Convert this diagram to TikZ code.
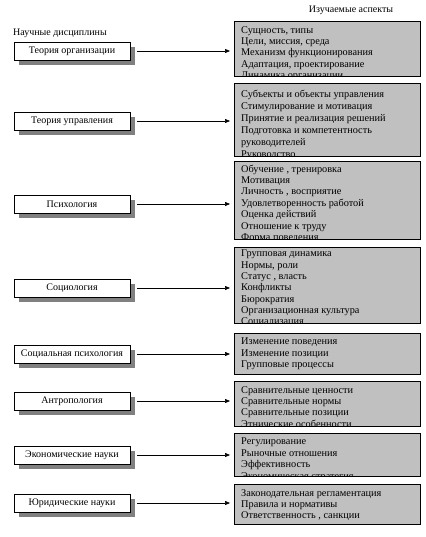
\documentclass[tikz,border=0pt]{standalone}
\usepackage{fontspec}
\setmainfont{Liberation Serif}
\usetikzlibrary{arrows.meta,shadows}
\definecolor{boxgray}{RGB}{192,192,192}
\definecolor{shadegray}{RGB}{128,128,128}
\tikzset{
  disc/.style={draw=black, line width=0.7pt, fill=white, minimum width=116pt, minimum height=18pt,
    inner sep=0pt, font=\fontsize{10}{10}\selectfont,
    drop shadow={shadow xshift=5pt, shadow yshift=-5pt, fill=shadegray, opacity=1}},
  aspect/.style={draw=black, line width=0.7pt, fill=boxgray, minimum width=186pt, anchor=north west, inner sep=0pt},
  atext/.style={anchor=north west, align=left, inner sep=0pt},
  hdr/.style={inner sep=0pt, font=\fontsize{10}{12}\selectfont},
  arr/.style={line width=0.6pt, -{Triangle[length=5pt,width=4pt]}}
}
% name, top, height, text, yshift, line spacing
\newcommand{\aspectbox}[6]{%
  \node[aspect, minimum height=#3pt] (#1) at (234,#2) {};
  \begin{scope}
    \clip ([shift={(0.5pt,-0.5pt)}]#1.north west) rectangle ([shift={(-0.5pt,0.5pt)}]#1.south east);
    \node[atext, font=\fontsize{10.3}{#6}\selectfont] (#1t) at ([xshift=7pt,yshift=-#5pt]#1.north west) {#4};
  \end{scope}
  \draw[line width=0.7pt] (#1.north west) rectangle (#1.south east);
}
\begin{document}
\begin{tikzpicture}[x=1pt,y=-1pt]
\useasboundingbox (0,0) rectangle (425,537);

\node[hdr, anchor=west] (hl) at (13,33) {Научные дисциплины};
\node[hdr] (hr) at (351,10) {Изучаемые аспекты};

\node[disc] (l1) at (72,51) {Теория организации};
\node[disc] (l2) at (72,121) {Теория управления};
\node[disc] (l3) at (72,204) {Психология};
\node[disc] (l4) at (72,288) {Социология};
\node[disc] (l5) at (72,354) {Социальная психология};
\node[disc] (l6) at (72,401) {Антропология};
\node[disc] (l7) at (72,455) {Экономические науки};
\node[disc] (l8) at (72,503) {Юридические науки};

\aspectbox{r1}{21}{55}{Сущность, типы\\Цели, миссия, среда\\Механизм функционирования\\Адаптация, проектирование\\Динамика организации}{5}{11.4}
\aspectbox{r2}{83}{73}{Субъекты и объекты управления\\Стимулирование и мотивация\\Принятие и реализация решений\\Подготовка и компетентность\\руководителей\\Руководство}{6.5}{12}
\aspectbox{r3}{161}{78}{Обучение , тренировка\\Мотивация\\Личность , восприятие\\Удовлетворенность работой\\Оценка действий\\Отношение к труду\\Форма поведения}{3.5}{11.4}
\aspectbox{r4}{247}{76}{Групповая динамика\\Нормы, роли\\Статус , власть\\Конфликты\\Бюрократия\\Организационная культура\\Социализация}{3}{11.3}
\aspectbox{r5}{333}{41}{Изменение поведения\\Изменение позиции\\Групповые процессы}{5}{11.4}
\aspectbox{r6}{381}{45}{Сравнительные ценности\\Сравнительные нормы\\Сравнительные позиции\\Этнические особенности}{5}{11.4}
\aspectbox{r7}{433}{43}{Регулирование\\Рыночные отношения\\Эффективность\\Экономическая стратегия}{5}{11.4}
\aspectbox{r8}{484}{40}{Законодательная регламентация\\Правила и нормативы\\Ответственность , санкции}{5}{11.4}

\foreach \i in {1,...,8}{
  \draw[arr] ([xshift=7pt]l\i.east) -- ([xshift=-4pt]l\i.east -| r\i.west);
}
\end{tikzpicture}
\end{document}
